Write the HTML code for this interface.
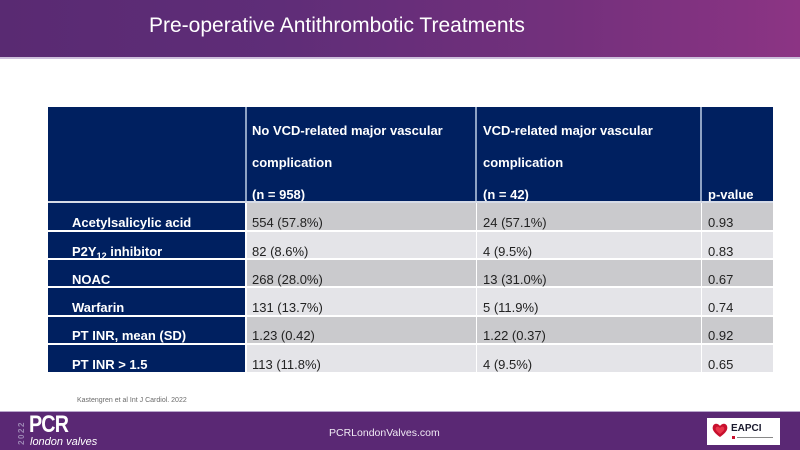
<!DOCTYPE html>
<html>
<head>
<meta charset="utf-8">
<style>
  html, body { margin:0; padding:0; }
  body { width:800px; height:450px; position:relative; overflow:hidden; background:#ffffff; font-family:"Liberation Sans", Arial, sans-serif; }
  .abs { position:absolute; }
  .band { left:0; top:0; width:800px; height:57px; background:linear-gradient(90deg,#592a72 0%,#5f2d78 35%,#73307c 70%,#8c3484 100%); }
  .bandline { left:0; top:57px; width:800px; height:2px; background:#cdbfdc; }
  .title { left:149px; top:13px; font-size:21px; color:#ffffff; white-space:nowrap; line-height:26px; }
  .hdr { left:48px; top:107px; width:725px; height:94px; background:#002060; }
  .sep { top:201px; left:48px; width:725px; height:2px; background:#d6dbe6; }
  .vline { width:2px; background:#8ea2c4; }
  .cell { position:absolute; white-space:nowrap; font-size:13px; line-height:15px; }
  .hl { color:#ffffff; font-weight:bold; font-size:13px; line-height:15px; position:absolute; white-space:nowrap; }
  .lab { color:#ffffff; font-weight:bold; }
  .dat { color:#222222; }
  .footer { left:0; top:412px; width:800px; height:38px; background:#5a2874; }
  .footline { left:0; top:411px; width:800px; height:1px; background:#b9a6cc; }
</style>
</head>
<body>
  <div class="abs band"></div>
  <div class="abs bandline"></div>
  <div class="abs title">Pre-operative Antithrombotic Treatments</div>

  <!-- Header -->
  <div class="abs hdr"></div>
  <div class="abs vline" style="left:245px;top:107px;height:94px;"></div>
  <div class="abs vline" style="left:475px;top:107px;height:94px;"></div>
  <div class="abs vline" style="left:700px;top:107px;height:94px;"></div>
  <div class="hl" style="left:252px;top:123px;">No VCD-related major vascular</div>
  <div class="hl" style="left:252px;top:155px;">complication</div>
  <div class="hl" style="left:252px;top:187px;">(n = 958)</div>
  <div class="hl" style="left:483px;top:123px;">VCD-related major vascular</div>
  <div class="hl" style="left:483px;top:155px;">complication</div>
  <div class="hl" style="left:483px;top:187px;">(n = 42)</div>
  <div class="hl" style="left:708px;top:187px;">p-value</div>
  <div class="abs sep"></div>

  <!-- Rows -->
  <!-- row tops: 203, 231, 259, 287, 316, 344 ; heights ~27 -->
  <div class="abs" style="left:48px;top:203px;width:197px;height:27px;background:#002060;"></div>
  <div class="abs" style="left:247px;top:203px;width:526px;height:27px;background:#cacacd;"></div>
  <div class="abs" style="left:48px;top:232px;width:197px;height:26px;background:#002060;"></div>
  <div class="abs" style="left:247px;top:232px;width:526px;height:26px;background:#e4e4e8;"></div>
  <div class="abs" style="left:48px;top:260px;width:197px;height:26px;background:#002060;"></div>
  <div class="abs" style="left:247px;top:260px;width:526px;height:26px;background:#cacacd;"></div>
  <div class="abs" style="left:48px;top:288px;width:197px;height:27px;background:#002060;"></div>
  <div class="abs" style="left:247px;top:288px;width:526px;height:27px;background:#e4e4e8;"></div>
  <div class="abs" style="left:48px;top:317px;width:197px;height:26px;background:#002060;"></div>
  <div class="abs" style="left:247px;top:317px;width:526px;height:26px;background:#cacacd;"></div>
  <div class="abs" style="left:48px;top:345px;width:197px;height:27px;background:#002060;"></div>
  <div class="abs" style="left:247px;top:345px;width:526px;height:27px;background:#e4e4e8;"></div>
  <!-- body vertical white separators -->
  <div class="abs" style="left:476px;top:203px;width:1px;height:169px;background:#ffffff;"></div>
  <div class="abs" style="left:701px;top:203px;width:1px;height:169px;background:#ffffff;"></div>

  <!-- row text -->
  <div class="cell lab" style="left:72px;top:215px;">Acetylsalicylic acid</div>
  <div class="cell dat" style="left:252px;top:215px;">554 (57.8%)</div>
  <div class="cell dat" style="left:483px;top:215px;">24 (57.1%)</div>
  <div class="cell dat" style="left:708px;top:215px;">0.93</div>

  <div class="cell lab" style="left:72px;top:244px;">P2Y<sub style="font-size:9px;vertical-align:-3px;line-height:0;">12</sub> inhibitor</div>
  <div class="cell dat" style="left:252px;top:244px;">82 (8.6%)</div>
  <div class="cell dat" style="left:483px;top:244px;">4 (9.5%)</div>
  <div class="cell dat" style="left:708px;top:244px;">0.83</div>

  <div class="cell lab" style="left:72px;top:272px;">NOAC</div>
  <div class="cell dat" style="left:252px;top:272px;">268 (28.0%)</div>
  <div class="cell dat" style="left:483px;top:272px;">13 (31.0%)</div>
  <div class="cell dat" style="left:708px;top:272px;">0.67</div>

  <div class="cell lab" style="left:72px;top:300px;">Warfarin</div>
  <div class="cell dat" style="left:252px;top:300px;">131 (13.7%)</div>
  <div class="cell dat" style="left:483px;top:300px;">5 (11.9%)</div>
  <div class="cell dat" style="left:708px;top:300px;">0.74</div>

  <div class="cell lab" style="left:72px;top:328px;">PT INR, mean (SD)</div>
  <div class="cell dat" style="left:252px;top:328px;">1.23 (0.42)</div>
  <div class="cell dat" style="left:483px;top:328px;">1.22 (0.37)</div>
  <div class="cell dat" style="left:708px;top:328px;">0.92</div>

  <div class="cell lab" style="left:72px;top:357px;">PT INR &gt; 1.5</div>
  <div class="cell dat" style="left:252px;top:357px;">113 (11.8%)</div>
  <div class="cell dat" style="left:483px;top:357px;">4 (9.5%)</div>
  <div class="cell dat" style="left:708px;top:357px;">0.65</div>

  <!-- citation -->
  <div class="abs" style="left:77px;top:396px;font-size:7px;line-height:9px;color:#6b6b6b;white-space:nowrap;">Kastengren et al Int J Cardiol. 2022</div>

  <!-- footer -->
  <div class="abs footline"></div>
  <div class="abs footer"></div>
  <div class="abs" style="left:8px;top:428px;width:28px;height:10px;transform:rotate(-90deg);font-size:8px;line-height:10px;font-weight:bold;color:#9c86b4;letter-spacing:1.5px;text-align:center;">2022</div>
  <div class="abs" style="left:29px;top:412px;font-size:24px;line-height:26px;font-weight:bold;color:#ffffff;transform:scaleX(0.82);transform-origin:left top;letter-spacing:-1px;">PCR</div>
  <div class="abs" style="left:30px;top:436px;font-size:11px;line-height:13px;font-style:italic;color:#ffffff;white-space:nowrap;">london valves</div>
  <div class="abs" style="left:329px;top:426px;font-size:10.5px;line-height:14px;color:#f0eaf4;white-space:nowrap;">PCRLondonValves.com</div>

  <!-- EAPCI logo -->
  <div class="abs" style="left:707px;top:418px;width:73px;height:27px;background:#ffffff;"></div>
  <svg class="abs" style="left:711px;top:421px;" width="18" height="18" viewBox="0 0 18 18">
    <path d="M9 16 C2 11 1 8 2 5 C3 2 7 2 9 5 C11 2 15 2 16 5 C17 8 16 11 9 16 Z" fill="#c8102e"/>
    <path d="M9 13 C5 10 4 8 5 6.5 C6 5 8 5.5 9 7 C10 5.5 12 5 13 6.5 C14 8 13 10 9 13 Z" fill="#e8354a"/>
  </svg>
  <div class="abs" style="left:731px;top:423px;font-size:10px;line-height:12px;font-weight:bold;color:#1a1a2e;white-space:nowrap;">EAPCI</div>
  <div class="abs" style="left:732px;top:436px;width:3px;height:3px;background:#c8102e;"></div>
  <div class="abs" style="left:737px;top:437px;width:36px;height:1px;background:#888888;"></div>
</body>
</html>
